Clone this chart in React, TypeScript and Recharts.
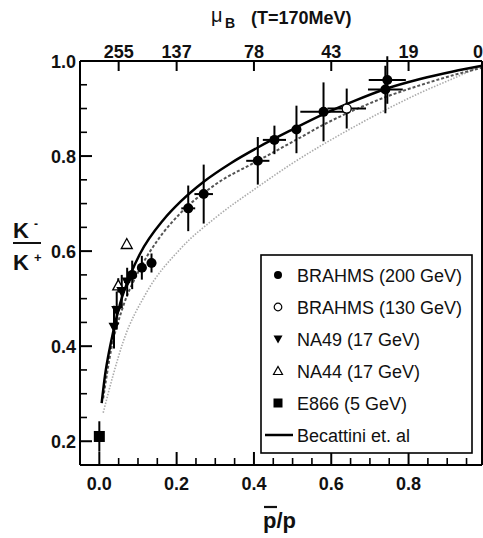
import React from 'react';
import { ComposedChart, Line, Scatter, XAxis, YAxis, ErrorBar } from 'recharts';

const FONT = '"Liberation Sans", Arial, Helvetica, sans-serif';

// Axis ticks
const xMajorTicks = [0, 0.2, 0.4, 0.6, 0.8];
const xAllTicks = [0, 0.05, 0.1, 0.15, 0.2, 0.25, 0.3, 0.35, 0.4, 0.45, 0.5, 0.55, 0.6, 0.65, 0.7, 0.75, 0.8, 0.85, 0.9, 0.95];
const yMajorTicks = [0.2, 0.4, 0.6, 0.8, 1.0];
const yAllTicks = [0.2, 0.25, 0.3, 0.35, 0.4, 0.45, 0.5, 0.55, 0.6, 0.65, 0.7, 0.75, 0.8, 0.85, 0.9, 0.95, 1.0];
const muBTickPositions = [0.05, 0.2, 0.4, 0.6, 0.8, 0.99];
const muBTickLabels = ['255', '137', '78', '43', '19', '0'];

const xDomain = [-0.05, 0.99];
const yDomain = [0.15, 1.0];

// Data series
const brahms200 = [
  { x: 0.085, y: 0.55, ex: 0.012, ey: 0.03 },
  { x: 0.11, y: 0.565, ex: 0.012, ey: 0.025 },
  { x: 0.135, y: 0.575, ex: 0.012, ey: 0.02 },
  { x: 0.23, y: 0.69, ex: 0.018, ey: 0.048 },
  { x: 0.27, y: 0.72, ex: 0.024, ey: 0.062 },
  { x: 0.41, y: 0.79, ex: 0.03, ey: 0.05 },
  { x: 0.453, y: 0.834, ex: 0.03, ey: 0.03 },
  { x: 0.51, y: 0.856, ex: 0.0, ey: 0.05 },
  { x: 0.58, y: 0.893, ex: 0.06, ey: 0.062 },
  { x: 0.74, y: 0.94, ex: 0.045, ey: 0.05 },
  { x: 0.745, y: 0.96, ex: 0.048, ey: 0.05 },
];
const brahms130 = [
  { x: 0.64, y: 0.9, ex: 0.05, ey: 0.042 },
];
const na49 = [
  { x: 0.038, y: 0.44, ex: 0.006, ey: 0.045 },
  { x: 0.045, y: 0.475, ex: 0.006, ey: 0.04 },
  { x: 0.058, y: 0.515, ex: 0.008, ey: 0.035 },
  { x: 0.072, y: 0.535, ex: 0.008, ey: 0.03 },
];
const na44 = [
  { x: 0.049, y: 0.528, ex: 0.006, ey: 0.015 },
  { x: 0.071, y: 0.615, ex: 0.0, ey: 0.0 },
];
const e866 = [
  { x: 0.0, y: 0.21, ex: 0.0, ey: 0.032 },
];

// Model curves
const becattiniCurve = [
  { x: 0.006, y: 0.28 }, { x: 0.015, y: 0.34 }, { x: 0.028, y: 0.4 }, { x: 0.054, y: 0.49 },
  { x: 0.08, y: 0.55 }, { x: 0.105, y: 0.594 }, { x: 0.166, y: 0.666 }, { x: 0.21, y: 0.704 },
  { x: 0.27, y: 0.746 }, { x: 0.34, y: 0.785 }, { x: 0.41, y: 0.818 }, { x: 0.5, y: 0.856 },
  { x: 0.58, y: 0.888 }, { x: 0.66, y: 0.916 }, { x: 0.74, y: 0.941 }, { x: 0.83, y: 0.962 },
  { x: 0.915, y: 0.978 }, { x: 0.99, y: 0.99 },
];
const dashedCurve = [
  { x: 0.01, y: 0.29 }, { x: 0.03, y: 0.39 }, { x: 0.06, y: 0.48 }, { x: 0.1, y: 0.555 },
  { x: 0.15, y: 0.622 }, { x: 0.21, y: 0.68 }, { x: 0.3, y: 0.74 }, { x: 0.41, y: 0.79 },
  { x: 0.5, y: 0.83 }, { x: 0.58, y: 0.866 }, { x: 0.66, y: 0.897 }, { x: 0.74, y: 0.924 },
  { x: 0.83, y: 0.949 }, { x: 0.915, y: 0.97 }, { x: 0.99, y: 0.986 },
];
const dottedCurve = [
  { x: 0.01, y: 0.26 }, { x: 0.036, y: 0.34 }, { x: 0.062, y: 0.41 }, { x: 0.12, y: 0.51 },
  { x: 0.21, y: 0.605 }, { x: 0.3, y: 0.67 }, { x: 0.41, y: 0.735 }, { x: 0.5, y: 0.785 },
  { x: 0.58, y: 0.825 }, { x: 0.66, y: 0.862 }, { x: 0.74, y: 0.897 }, { x: 0.83, y: 0.933 },
  { x: 0.915, y: 0.963 }, { x: 0.99, y: 0.99 },
];

const legendNames = ['BRAHMS (200 GeV)', 'BRAHMS (130 GeV)', 'NA49 (17 GeV)', 'NA44 (17 GeV)', 'E866 (5 GeV)', 'Becattini et. al'];

const isIn = (arr: number[], v: number) => arr.some((a) => Math.abs(a - v) < 1e-6);

const BottomTick = (props: any) => {
  const { x, y, payload } = props;
  const major = isIn(xMajorTicks, payload.value);
  return (
    <g>
      <line x1={x} y1={y} x2={x} y2={y - (major ? 13 : 7)} stroke="#000" strokeWidth={major ? 2 : 1.6} />
      {major && (
        <text x={x} y={y + 25} textAnchor="middle" fontSize={18} fontWeight="bold" fontFamily={FONT} fill="#111">
          {payload.value.toFixed(1)}
        </text>
      )}
    </g>
  );
};

const TopTick = (props: any) => {
  const { x, y, payload } = props;
  const idx = muBTickPositions.findIndex((p) => Math.abs(p - payload.value) < 1e-6);
  const last = idx === muBTickPositions.length - 1;
  return (
    <g>
      <line x1={x} y1={y} x2={x} y2={y + 10} stroke="#000" strokeWidth={2} />
      <text x={last ? x + 1 : x} y={y - 3} textAnchor={last ? 'end' : 'middle'} fontSize={18} fontWeight="bold" fontFamily={FONT} fill="#111">
        {muBTickLabels[idx]}
      </text>
    </g>
  );
};

const LeftTick = (props: any) => {
  const { x, y, payload } = props;
  const major = isIn(yMajorTicks, payload.value);
  return (
    <g>
      <line x1={x} y1={y} x2={x + (major ? 12 : 7)} y2={y} stroke="#000" strokeWidth={major ? 2 : 1.6} />
      {major && (
        <text x={x - 4} y={y + 6.5} textAnchor="end" fontSize={18} fontWeight="bold" fontFamily={FONT} fill="#111">
          {payload.value.toFixed(1)}
        </text>
      )}
    </g>
  );
};

const FilledCircle = (p: any) => <circle cx={p.cx} cy={p.cy} r={5} fill="#000" />;
const OpenCircle = (p: any) => <circle cx={p.cx} cy={p.cy} r={4.5} fill="#fff" stroke="#000" strokeWidth={1.3} />;
const DownTriangle = (p: any) => (
  <polygon points={`${p.cx - 5.5},${p.cy - 4.5} ${p.cx + 5.5},${p.cy - 4.5} ${p.cx},${p.cy + 5.5}`} fill="#000" />
);
const OpenTriangle = (p: any) => (
  <polygon points={`${p.cx - 5.5},${p.cy + 4.5} ${p.cx + 5.5},${p.cy + 4.5} ${p.cx},${p.cy - 5.5}`} fill="#fff" stroke="#000" strokeWidth={1.3} />
);
const FilledSquare = (p: any) => <rect x={p.cx - 5.5} y={p.cy - 5.5} width={11} height={11} fill="#000" />;

const errBars = (
  [
    <ErrorBar key="ey" dataKey="ey" direction="y" width={0} stroke="#000" strokeWidth={2} isAnimationActive={false} />,
    <ErrorBar key="ex" dataKey="ex" direction="x" width={0} stroke="#000" strokeWidth={2} isAnimationActive={false} />,
  ]
);

const legendIcons = [
  <circle cx={0} cy={0} r={4} fill="#000" />,
  <circle cx={0} cy={0} r={3.8} fill="#fff" stroke="#000" strokeWidth={1.2} />,
  <polygon points="-4.5,-3.5 4.5,-3.5 0,4.5" fill="#000" />,
  <polygon points="-4.5,3.5 4.5,3.5 0,-4.5" fill="#fff" stroke="#000" strokeWidth={1.2} />,
  <rect x={-4.5} y={-4.5} width={9} height={9} fill="#000" />,
  <line x1={-13} y1={0} x2={15} y2={0} stroke="#000" strokeWidth={2.5} />,
];

export default function App() {
  const W = 483;
  const H = 538;
  return (
    <div style={{ position: 'absolute', left: 0, top: 0, width: W, height: H, overflow: 'hidden', background: '#fff' }}>
      <ComposedChart width={W} height={H} margin={{ top: 0, right: 0, bottom: 0, left: 0 }}>
        <XAxis
          xAxisId="bottom"
          dataKey="x"
          type="number"
          orientation="bottom"
          domain={xDomain}
          allowDataOverflow
          ticks={xAllTicks}
          interval={0}
          height={73}
          tickSize={0}
          tickMargin={0}
          tickLine={false}
          axisLine={{ stroke: '#000', strokeWidth: 2 }}
          tick={(p: any) => <BottomTick {...p} />}
        />
        <XAxis
          xAxisId="top"
          dataKey="x"
          type="number"
          orientation="top"
          domain={xDomain}
          allowDataOverflow
          ticks={muBTickPositions}
          interval={0}
          height={61}
          tickSize={0}
          tickMargin={0}
          tickLine={false}
          axisLine={{ stroke: '#000', strokeWidth: 2 }}
          tick={(p: any) => <TopTick {...p} />}
        />
        <YAxis
          yAxisId="left"
          type="number"
          domain={yDomain}
          allowDataOverflow
          ticks={yAllTicks}
          interval={0}
          width={80}
          tickSize={0}
          tickMargin={0}
          tickLine={false}
          axisLine={{ stroke: '#000', strokeWidth: 2 }}
          tick={(p: any) => <LeftTick {...p} />}
        />
        <YAxis
          yAxisId="right"
          orientation="right"
          type="number"
          domain={yDomain}
          allowDataOverflow
          width={1}
          tick={false}
          tickLine={false}
          axisLine={{ stroke: '#000', strokeWidth: 2 }}
        />
        <Line xAxisId="bottom" yAxisId="left" data={dottedCurve} dataKey="y" type="monotone" stroke="#aaa" strokeWidth={1.6} strokeDasharray="1.5 1.5" dot={false} isAnimationActive={false} />
        <Line xAxisId="bottom" yAxisId="left" data={dashedCurve} dataKey="y" type="monotone" stroke="#555" strokeWidth={2} strokeDasharray="3 2" dot={false} isAnimationActive={false} />
        <Line xAxisId="bottom" yAxisId="left" data={becattiniCurve} dataKey="y" type="monotone" stroke="#000" strokeWidth={2.5} dot={false} isAnimationActive={false} />
        <Scatter xAxisId="bottom" yAxisId="left" data={brahms130} dataKey="y" shape={OpenCircle} isAnimationActive={false}>
          {errBars}
        </Scatter>
        <Scatter xAxisId="bottom" yAxisId="left" data={na44} dataKey="y" shape={OpenTriangle} isAnimationActive={false}>
          {errBars}
        </Scatter>
        <Scatter xAxisId="bottom" yAxisId="left" data={na49} dataKey="y" shape={DownTriangle} isAnimationActive={false}>
          {errBars}
        </Scatter>
        <Scatter xAxisId="bottom" yAxisId="left" data={brahms200} dataKey="y" shape={FilledCircle} isAnimationActive={false}>
          {errBars}
        </Scatter>
        <Scatter xAxisId="bottom" yAxisId="left" data={e866} dataKey="y" shape={FilledSquare} isAnimationActive={false}>
          {errBars}
        </Scatter>
      </ComposedChart>
      <svg width={W} height={H} style={{ position: 'absolute', left: 0, top: 0, pointerEvents: 'none' }}>
        {/* top title */}
        <text x={211} y={22} fontSize={20} fontFamily={FONT} fill="#111">μ</text>
        <text x={225} y={28} fontSize={14} fontWeight="bold" fontFamily={FONT} fill="#111">B</text>
        <text x={251} y={24} fontSize={18} fontWeight="bold" fontFamily={FONT} fill="#111">(T=170MeV)</text>
        {/* y label */}
        <text x={13} y={238} fontSize={22} fontWeight="bold" fontFamily={FONT} fill="#111">K</text>
        <text x={34} y={228} fontSize={12} fontWeight="bold" fontFamily={FONT} fill="#111">-</text>
        <line x1={13} y1={243} x2={41} y2={243} stroke="#111" strokeWidth={2} />
        <text x={13} y={270} fontSize={22} fontWeight="bold" fontFamily={FONT} fill="#111">K</text>
        <text x={34} y={262} fontSize={13} fontWeight="bold" fontFamily={FONT} fill="#111">+</text>
        {/* x label */}
        <line x1={264} y1={507} x2={277} y2={507} stroke="#111" strokeWidth={2.2} />
        <text x={263} y={528} fontSize={22} fontWeight="bold" fontFamily={FONT} fill="#111">p/p</text>
        {/* legend */}
        <g transform="translate(261,255)">
          <rect x={0} y={0} width={211} height={198} fill="#fff" stroke="#000" strokeWidth={1.6} />
          {legendNames.map((name, i) => (
            <g key={name} transform={`translate(0,${20 + i * 32})`}>
              <g transform="translate(17,0)">{legendIcons[i]}</g>
              <text x={36} y={6.5} fontSize={18} fontFamily={FONT} fill="#111">{name}</text>
            </g>
          ))}
        </g>
      </svg>
    </div>
  );
}
